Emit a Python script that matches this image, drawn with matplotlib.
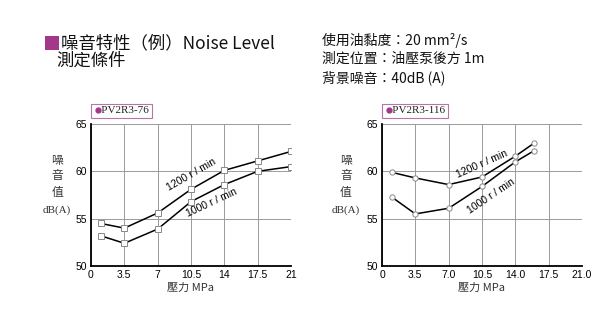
import matplotlib
matplotlib.use('Agg')
import matplotlib.pyplot as plt
from matplotlib.patches import Rectangle

plt.rcParams['font.family'] = ['Noto Sans CJK TC', 'DejaVu Sans']

# PV2R3-76 noise curves (pressure MPa -> dB(A))
p76 = [1, 3.5, 7, 10.5, 14, 17.5, 21]
db76_1200 = [54.5, 54.0, 55.6, 58.1, 60.1, 61.1, 62.1]
db76_1000 = [53.2, 52.4, 53.9, 56.8, 58.6, 60.0, 60.5]

# PV2R3-116 noise curves
p116 = [1, 3.5, 7, 10.5, 14, 16]
db116_1200 = [59.9, 59.3, 58.6, 59.4, 61.6, 63.0]
db116_1000 = [57.3, 55.5, 56.1, 58.4, 61.0, 62.2]

xticks = [0, 3.5, 7, 10.5, 14, 17.5, 21]
xlabels_76 = ['0', '3.5', '7', '10.5', '14', '17.5', '21']
xlabels_116 = ['0', '3.5', '7.0', '10.5', '14.0', '17.5', '21.0']
yticks = [50, 55, 60, 65]

PURPLE = '#a3378a'
SERIF = ['Liberation Serif', 'DejaVu Serif']
SANS = ['Liberation Sans', 'DejaVu Sans']

fig = plt.figure(figsize=(6.1, 3.25), dpi=100)

# header: purple square marker, title and test conditions
fig.patches.append(Rectangle((45 / 610, 1 - 50 / 325), 14 / 610, 14 / 325,
                             transform=fig.transFigure, facecolor=PURPLE, edgecolor='none'))
fig.text(61 / 610, 1 - 43 / 325, '噪音特性（例）Noise Level', fontsize=12.5, va='center', ha='left', color='#111111')
fig.text(56 / 610, 1 - 61 / 325, '測定條件', fontsize=12.5, va='center', ha='left', color='#111111')
cond = ['使用油黏度：20 mm²/s', '測定位置：油壓泵後方 1m', '背景噪音：40dB (A)']
for i, line in enumerate(cond):
    fig.text(322 / 610, 1 - (40 + i * 19) / 325, line, fontsize=10, va='center', ha='left', color='#111111')


def draw_panel(ax, x, y_hi, y_lo, marker, xlabels, name, txt_hi, txt_lo, ylab_x):
    ax.set_xlim(0, 21)
    ax.set_ylim(50, 65)
    ax.set_xticks(xticks)
    ax.set_xticklabels(xlabels)
    ax.set_yticks(yticks)
    ax.tick_params(length=0, labelsize=7.5, pad=3)
    for lab in ax.get_xticklabels() + ax.get_yticklabels():
        lab.set_family(SANS)
    ax.grid(True, color='#9a9a9a', linewidth=0.7)
    ax.set_axisbelow(True)
    for s in ('top', 'right'):
        ax.spines[s].set_visible(False)
    for s in ('left', 'bottom'):
        ax.spines[s].set_linewidth(1.3)
        ax.spines[s].set_color('black')

    style = dict(color='black', linewidth=1.1, marker=marker, markersize=3.8,
                 markerfacecolor='white', markeredgecolor='#888888', markeredgewidth=0.7)
    ax.plot(x, y_hi, **style)
    ax.plot(x, y_lo, **style)

    for tx, ty, label, rot in (txt_hi, txt_lo):
        ax.text(tx, ty, label, rotation=rot, fontsize=7.5, ha='center', va='center',
                rotation_mode='anchor', family=SANS)

    # series name tag above the plot, with a purple bullet
    ax.text(0.012, 1.06, '   ' + name, transform=ax.transAxes, fontsize=8,
            ha='left', va='bottom', family=SERIF, color='#222222',
            bbox=dict(boxstyle='square,pad=0.25', facecolor='white',
                      edgecolor='#b774a6', linewidth=0.8))
    ax.plot([0.035], [1.098], marker='o', markersize=3.5, color=PURPLE,
            transform=ax.transAxes, clip_on=False, zorder=10)

    for ch, yy in zip(['噪', '音', '值'], [0.746, 0.634, 0.521]):
        ax.text(ylab_x, yy, ch, transform=ax.transAxes, fontsize=8.5,
                ha='center', va='center', color='#333333')
    ax.text(ylab_x, 0.39, 'dB(A)', transform=ax.transAxes, fontsize=8,
            ha='center', va='center', family=SERIF, color='#333333')

    ax.set_xlabel('壓力 MPa', fontsize=8, labelpad=2, color='#333333')


ax1 = fig.add_axes([91 / 610, 59 / 325, 200 / 610, 142 / 325])
draw_panel(ax1, p76, db76_1200, db76_1000, 's', xlabels_76, 'PV2R3-76',
           (10.5, 59.6, '1200 r / min', 30), (12.7, 56.7, '1000 r / min', 25), -0.17)

ax2 = fig.add_axes([382 / 610, 59 / 325, 200 / 610, 142 / 325])
draw_panel(ax2, p116, db116_1200, db116_1000, 'o', xlabels_116, 'PV2R3-116',
           (10.5, 60.8, '1200 r / min', 24), (11.4, 57.4, '1000 r / min', 34), -0.18)

fig.savefig('out.png', dpi=100)
